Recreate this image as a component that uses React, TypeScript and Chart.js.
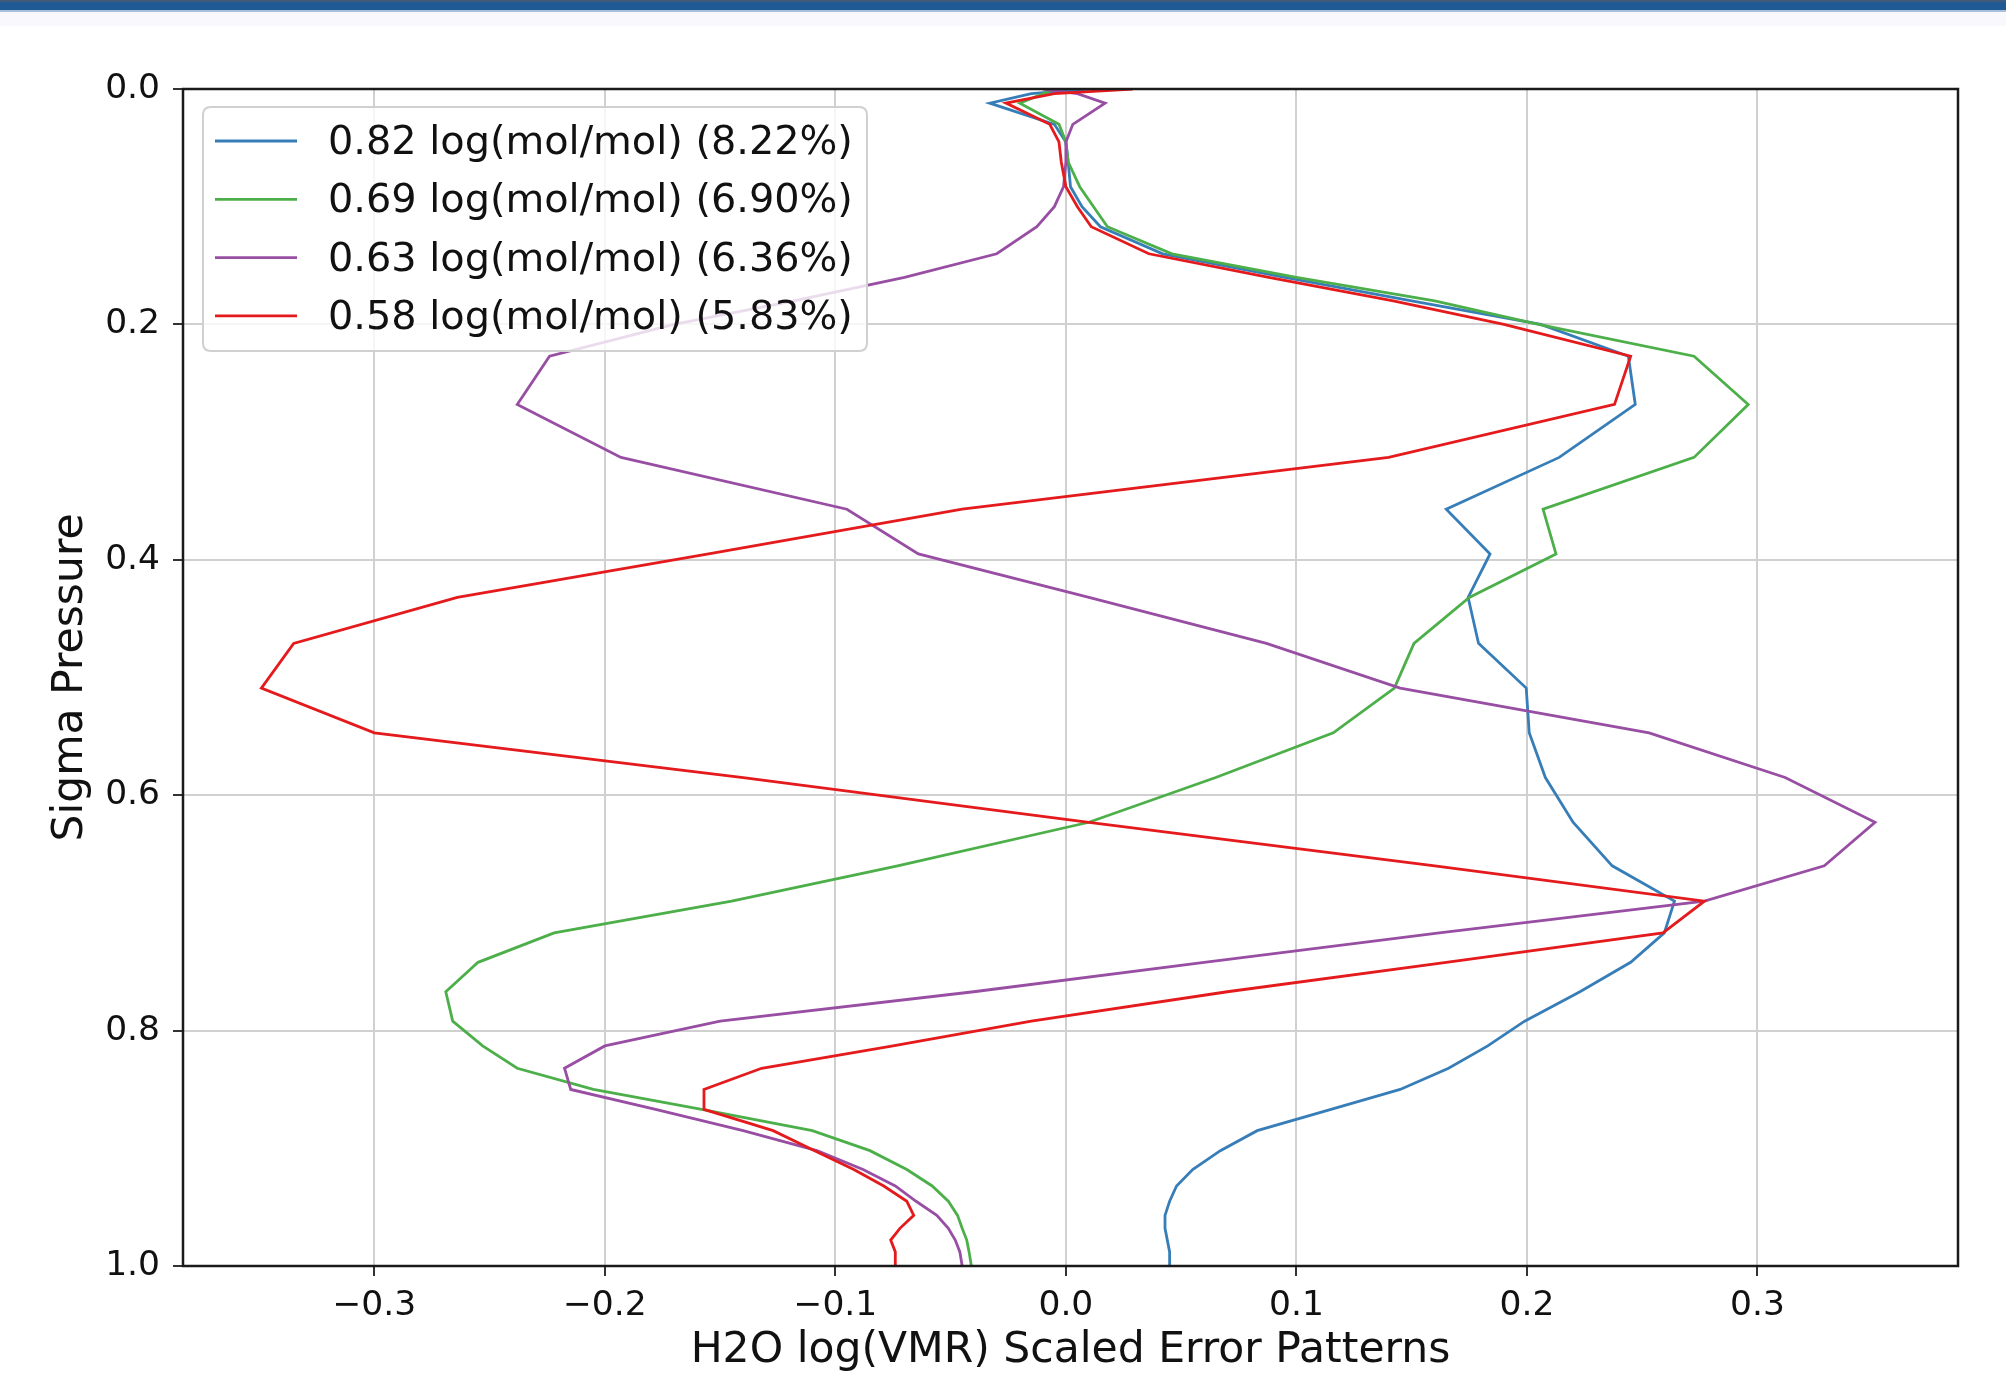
import React, { useEffect, useRef } from 'react';
import { Chart, registerables } from 'chart.js';

Chart.register(...registerables);

// Sigma pressure levels (shared vertical grid)
const sigmaLevels = [
  0.0, 0.004, 0.012, 0.03, 0.045, 0.062, 0.083, 0.1, 0.117, 0.14, 0.16, 0.18, 0.2, 0.227,
  0.268, 0.313, 0.357, 0.395, 0.432, 0.471, 0.509, 0.547, 0.585, 0.623, 0.66, 0.69, 0.717,
  0.742, 0.767, 0.792, 0.813, 0.832, 0.85, 0.867, 0.885, 0.902, 0.918, 0.932, 0.945, 0.957,
  0.968, 0.978, 0.988, 1.0,
];

const seriesLabels = [
  '0.82 log(mol/mol) (8.22%)',
  '0.69 log(mol/mol) (6.90%)',
  '0.63 log(mol/mol) (6.36%)',
  '0.58 log(mol/mol) (5.83%)',
];

const seriesColors = ['#377eb8', '#4daf4a', '#984ea3', '#e41a1c'];

const blueValues = [
  0.01, -0.015, -0.033, -0.005, 0.0, 0.001, 0.002, 0.007, 0.015, 0.042, 0.095, 0.15, 0.206,
  0.244, 0.247, 0.214, 0.165, 0.184, 0.1745, 0.179, 0.1997, 0.201, 0.208, 0.22, 0.237, 0.264,
  0.2596, 0.245, 0.223, 0.199, 0.183, 0.166, 0.145, 0.115, 0.083, 0.067, 0.055, 0.048, 0.045,
  0.043, 0.043, 0.044, 0.045, 0.045,
];

const greenValues = [
  -0.005, -0.01, -0.02, -0.003, 0.0, 0.001, 0.006, 0.012, 0.018, 0.046, 0.1, 0.16, 0.205,
  0.2725, 0.296, 0.2725, 0.207, 0.2126, 0.175, 0.151, 0.1425, 0.116, 0.065, 0.01, -0.073,
  -0.145, -0.222, -0.255, -0.269, -0.266, -0.253, -0.238, -0.205, -0.158, -0.11, -0.085,
  -0.069, -0.058, -0.051, -0.047, -0.045, -0.043, -0.042, -0.041,
];

const purpleValues = [
  -0.01, 0.005, 0.017, 0.003, 0.0, 0.0, -0.001, -0.005, -0.0126, -0.03, -0.07, -0.118, -0.17,
  -0.224, -0.238, -0.193, -0.095, -0.064, 0.01, 0.087, 0.145, 0.253, 0.312, 0.351, 0.329,
  0.277, 0.162, 0.06, -0.04, -0.15, -0.2, -0.2175, -0.2148, -0.178, -0.14, -0.108, -0.088,
  -0.074, -0.065, -0.056, -0.051, -0.048, -0.046, -0.045,
];

const redValues = [
  0.029, -0.005, -0.026, -0.007, -0.003, -0.002, 0.0, 0.005, 0.011, 0.036, 0.088, 0.142, 0.19,
  0.245, 0.238, 0.14, -0.045, -0.155, -0.264, -0.335, -0.349, -0.3, -0.14, 0.01, 0.16, 0.277,
  0.259, 0.165, 0.07, -0.015, -0.075, -0.132, -0.157, -0.157, -0.127, -0.109, -0.092, -0.079,
  -0.069, -0.066, -0.072, -0.076, -0.074, -0.074,
];

const allSeries = [blueValues, greenValues, purpleValues, redValues];

const xTickValues = [-0.3, -0.2, -0.1, 0.0, 0.1, 0.2, 0.3];
const yTickValues = [0.0, 0.2, 0.4, 0.6, 0.8, 1.0];

const xAxisTitle = 'H2O log(VMR) Scaled Error Patterns';
const yAxisTitle = 'Sigma Pressure';

const FONT = "'DejaVu Sans', sans-serif";

const frameAndLegend = {
  id: 'frameAndLegend',
  afterDatasetsDraw(chart: any) {
    const { ctx, chartArea } = chart;
    const { left, top, right, bottom } = chartArea;
    ctx.save();
    // axes frame
    ctx.strokeStyle = '#1a1a1a';
    ctx.lineWidth = 2.5;
    ctx.strokeRect(left, top, right - left, bottom - top);

    // legend
    const bx = 203, by = 107, bw = 664, bh = 244, r = 8;
    ctx.beginPath();
    ctx.moveTo(bx + r, by);
    ctx.lineTo(bx + bw - r, by);
    ctx.quadraticCurveTo(bx + bw, by, bx + bw, by + r);
    ctx.lineTo(bx + bw, by + bh - r);
    ctx.quadraticCurveTo(bx + bw, by + bh, bx + bw - r, by + bh);
    ctx.lineTo(bx + r, by + bh);
    ctx.quadraticCurveTo(bx, by + bh, bx, by + bh - r);
    ctx.lineTo(bx, by + r);
    ctx.quadraticCurveTo(bx, by, bx + r, by);
    ctx.closePath();
    ctx.fillStyle = 'rgba(255,255,255,0.8)';
    ctx.fill();
    ctx.strokeStyle = '#d0d0d0';
    ctx.lineWidth = 2;
    ctx.stroke();

    ctx.font = `39.8px ${FONT}`;
    ctx.textBaseline = 'alphabetic';
    ctx.textAlign = 'left';
    chart.data.datasets.forEach((ds: any, i: number) => {
      const ly = 141 + i * 58.3;
      ctx.strokeStyle = ds.borderColor;
      ctx.lineWidth = 2.8;
      ctx.beginPath();
      ctx.moveTo(215, ly);
      ctx.lineTo(297, ly);
      ctx.stroke();
      ctx.fillStyle = '#111';
      ctx.fillText(ds.label, 328, ly + 13);
    });
    ctx.restore();
  },
};

export default function App() {
  const canvasRef = useRef<HTMLCanvasElement | null>(null);

  useEffect(() => {
    const canvas = canvasRef.current;
    if (!canvas) return;
    const datasets = allSeries.map((vals, i) => ({
      label: seriesLabels[i],
      data: vals.map((v, j) => ({ x: v, y: sigmaLevels[j] })),
      borderColor: seriesColors[i],
      backgroundColor: seriesColors[i],
      borderWidth: 2.8,
      pointRadius: 0,
      tension: 0,
      fill: false,
      order: allSeries.length - i,
    }));

    const chart = new Chart(canvas, {
      type: 'line',
      data: { datasets },
      options: {
        animation: false,
        responsive: false,
        devicePixelRatio: 1,
        layout: { padding: { top: 89, right: 48, bottom: 0, left: 0 } },
        plugins: {
          legend: { display: false },
          tooltip: { enabled: false },
        },
        scales: {
          x: {
            type: 'linear',
            min: -0.383,
            max: 0.387,
            afterFit: (s: any) => { s.height = 127; },
            afterBuildTicks: (s: any) => { s.ticks = xTickValues.map((v) => ({ value: v })); },
            grid: {
              color: '#d0d0d0',
              lineWidth: 2,
              drawTicks: true,
              tickLength: 10,
              tickColor: '#333',
              tickWidth: 2,
            },
            border: { display: false },
            ticks: {
              padding: 9,
              color: '#111',
              font: { family: FONT, size: 34.5 },
              maxRotation: 0,
              autoSkip: false,
              callback: (v: any) => {
                const n = Number(v);
                return (n < -1e-9 ? '\u2212' : '') + Math.abs(n).toFixed(1);
              },
            },
            title: {
              display: true,
              text: xAxisTitle,
              color: '#111',
              font: { family: FONT, size: 42.5 },
              padding: { top: 0, bottom: 17 },
            },
          },
          y: {
            type: 'linear',
            reverse: true,
            min: 0,
            max: 1,
            afterFit: (s: any) => { s.width = 183; },
            afterBuildTicks: (s: any) => { s.ticks = yTickValues.map((v) => ({ value: v })); },
            grid: {
              color: '#d0d0d0',
              lineWidth: 2,
              drawTicks: true,
              tickLength: 10,
              tickColor: '#333',
              tickWidth: 2,
            },
            border: { display: false },
            ticks: {
              padding: 13,
              color: '#111',
              font: { family: FONT, size: 34.5 },
              autoSkip: false,
              callback: (v: any) => Number(v).toFixed(1),
            },
            title: {
              display: true,
              text: yAxisTitle,
              color: '#111',
              font: { family: FONT, size: 42.5 },
              padding: { top: 45, bottom: 0 },
            },
          },
        },
      },
      plugins: [frameAndLegend],
    });

    return () => chart.destroy();
  }, []);

  return (
    <div style={{ position: 'absolute', left: 0, top: 0, width: 2006, height: 1393, background: '#ffffff', overflow: 'hidden' }}>
      <div style={{ position: 'absolute', left: 0, top: 0, width: 2006, height: 2, background: '#3f5a7a' }} />
      <div style={{ position: 'absolute', left: 0, top: 2, width: 2006, height: 8, background: '#1f5a94' }} />
      <div style={{ position: 'absolute', left: 0, top: 10, width: 2006, height: 2, background: '#a9c0dc' }} />
      <div style={{ position: 'absolute', left: 0, top: 12, width: 2006, height: 14, background: '#f8f8fd' }} />
      <canvas ref={canvasRef} width={2006} height={1393} style={{ position: 'absolute', left: 0, top: 0, display: 'block' }} />
    </div>
  );
}
